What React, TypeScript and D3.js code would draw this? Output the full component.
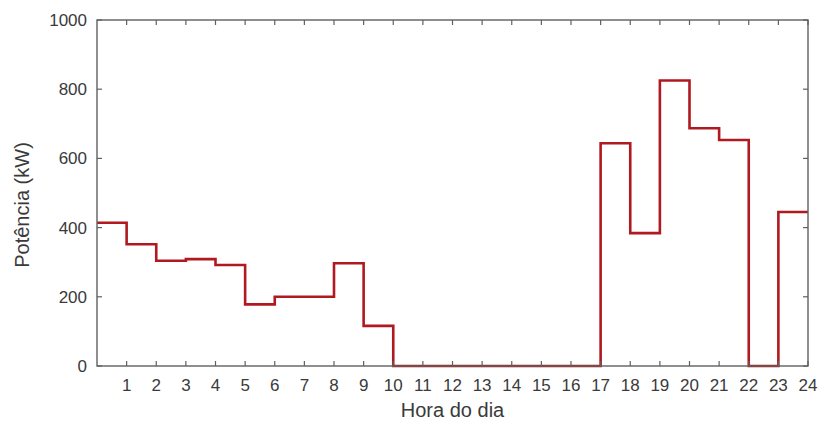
import React from "react";
import * as d3 from "d3";

const hours: number[] = Array.from({ length: 24 }, (_, i) => i);
const power: number[] = [414, 352, 304, 309, 292, 178, 200, 200, 297, 116, 0, 0, 0, 0, 0, 0, 0, 644, 384, 825, 687, 653, 0, 445];
const xTicks: number[] = Array.from({ length: 24 }, (_, i) => i + 1);
const yTicks: number[] = [0, 200, 400, 600, 800, 1000];

const W = 825, H = 427;
const M = { left: 97, right: 17, top: 20, bottom: 61 };

export default function App() {
  const x = d3.scaleLinear().domain([0, 24]).range([M.left, W - M.right]);
  const y = d3.scaleLinear().domain([0, 1000]).range([H - M.bottom, M.top]);
  const pts: [number, number][] = hours.map((h, i) => [h, power[i]]);
  pts.push([24, power[power.length - 1]]);
  const line = d3.line<[number, number]>().x(d => x(d[0])).y(d => y(d[1])).curve(d3.curveStepAfter);
  const axisColor = "#606060";
  const textColor = "#3a3a3a";
  const font = "Liberation Sans, Arial, sans-serif";
  const x0 = x(0), x1 = x(24), y0 = y(0), y1 = y(1000);
  const tl = 5;
  return (
    <svg width={W} height={H} style={{ position: "absolute", left: 0, top: 0, background: "#fff" }}>
      <path d={line(pts) || ""} fill="none" stroke="#b0191f" strokeWidth={2.6} strokeLinejoin="miter" />
      <rect x={x0} y={y1} width={x1 - x0} height={y0 - y1} fill="none" stroke={axisColor} strokeWidth={1.4} />
      {xTicks.map(t => (
        <g key={"x" + t}>
          <line x1={x(t)} x2={x(t)} y1={y0} y2={y0 - tl} stroke={axisColor} strokeWidth={1.2} />
          <line x1={x(t)} x2={x(t)} y1={y1} y2={y1 + tl} stroke={axisColor} strokeWidth={1.2} />
          <text x={x(t)} y={y0 + 25} textAnchor="middle" fontFamily={font} fontSize={17} fill={textColor}>{t}</text>
        </g>
      ))}
      {yTicks.map(t => (
        <g key={"y" + t}>
          <line x1={x0} x2={x0 + tl} y1={y(t)} y2={y(t)} stroke={axisColor} strokeWidth={1.2} />
          <line x1={x1} x2={x1 - tl} y1={y(t)} y2={y(t)} stroke={axisColor} strokeWidth={1.2} />
          <text x={x0 - 10} y={y(t) + 6} textAnchor="end" fontFamily={font} fontSize={17} fill={textColor}>{t}</text>
        </g>
      ))}
      <text x={(x0 + x1) / 2} y={417} textAnchor="middle" fontFamily={font} fontSize={20} fill={textColor}>Hora do dia</text>
      <text transform={`translate(29,205) rotate(-90)`} textAnchor="middle" fontFamily={font} fontSize={20} fill={textColor}>Potência (kW)</text>
    </svg>
  );
}
